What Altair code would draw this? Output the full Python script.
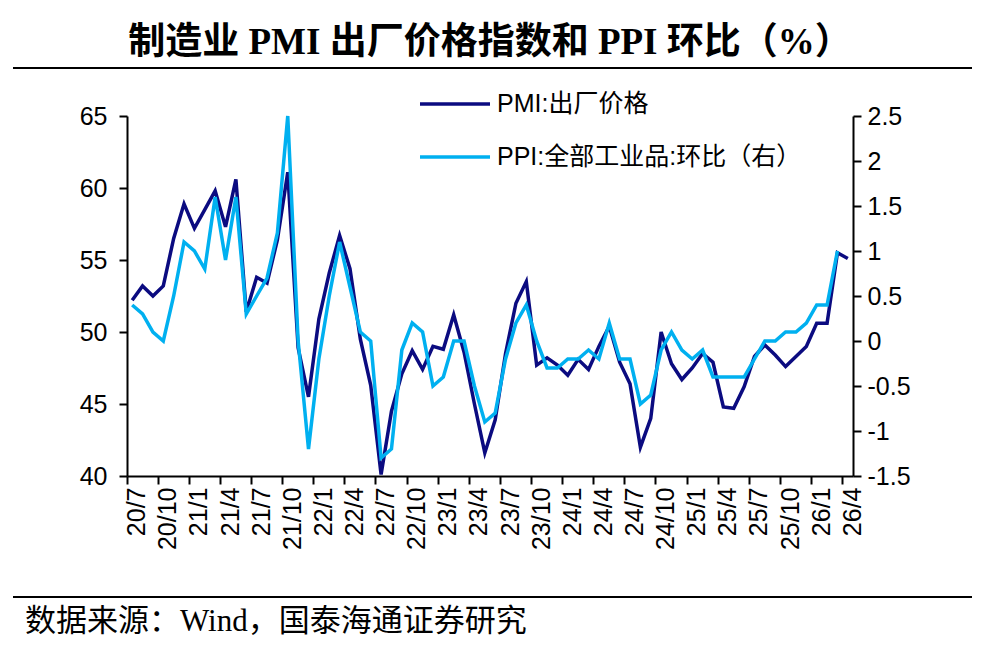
import altair as alt
import pandas as pd

months = [
    "20/7", "20/8", "20/9", "20/10", "20/11", "20/12",
    "21/1", "21/2", "21/3", "21/4", "21/5", "21/6", "21/7", "21/8", "21/9", "21/10", "21/11", "21/12",
    "22/1", "22/2", "22/3", "22/4", "22/5", "22/6", "22/7", "22/8", "22/9", "22/10", "22/11", "22/12",
    "23/1", "23/2", "23/3", "23/4", "23/5", "23/6", "23/7", "23/8", "23/9", "23/10", "23/11", "23/12",
    "24/1", "24/2", "24/3", "24/4", "24/5", "24/6", "24/7", "24/8", "24/9", "24/10", "24/11", "24/12",
    "25/1", "25/2", "25/3", "25/4", "25/5", "25/6", "25/7", "25/8", "25/9", "25/10", "25/11", "25/12",
    "26/1", "26/2", "26/3", "26/4",
]

tick_labels = [
    "20/7", "20/10", "21/1", "21/4", "21/7", "21/10", "22/1", "22/4", "22/7", "22/10",
    "23/1", "23/4", "23/7", "23/10", "24/1", "24/4", "24/7", "24/10", "25/1", "25/4",
    "25/7", "25/10", "26/1", "26/4",
]

pmi_price = [
    52.2, 53.2, 52.5, 53.2, 56.5, 58.9,
    57.2, 58.5, 59.8, 57.3, 60.6, 51.4, 53.8, 53.4, 56.4, 61.1, 48.9, 45.5,
    50.9, 54.1, 56.7, 54.4, 49.5, 46.3, 40.1, 44.5, 47.1, 48.7, 47.4, 49.0,
    48.8, 51.2, 48.6, 45.0, 41.6, 43.9, 48.5, 52.0, 53.5, 47.7, 48.2, 47.7,
    47.0, 48.1, 47.4, 49.0, 50.4, 47.9, 46.4, 42.0, 44.0, 50.0, 47.8, 46.7,
    47.5, 48.5, 47.9, 44.8, 44.7, 46.2, 48.3, 49.1, 48.4, 47.6, 48.3, 49.0,
    50.6, 50.6, 55.5, 55.1,
]

ppi_mom = [
    0.4, 0.3, 0.1, 0.0, 0.5, 1.1,
    1.0, 0.8, 1.6, 0.9, 1.6, 0.3, 0.5, 0.7, 1.2, 2.5, 0.0, -1.2,
    -0.2, 0.5, 1.1, 0.6, 0.1, 0.0, -1.3, -1.2, -0.1, 0.2, 0.1, -0.5,
    -0.4, 0.0, 0.0, -0.5, -0.9, -0.8, -0.2, 0.2, 0.4, 0.0, -0.3, -0.3,
    -0.2, -0.2, -0.1, -0.2, 0.2, -0.2, -0.2, -0.7, -0.6, -0.1, 0.1, -0.1,
    -0.2, -0.1, -0.4, -0.4, -0.4, -0.4, -0.2, 0.0, 0.0, 0.1, 0.1, 0.2,
    0.4, 0.4, 1.0,
]

left_ticks = [40, 45, 50, 55, 60, 65]
right_ticks = [-1.5, -1.0, -0.5, 0.0, 0.5, 1.0, 1.5, 2.0, 2.5]

series_names = ["PMI:出厂价格", "PPI:全部工业品:环比（右）"]
series_colors = ["#0B0B80", "#00B0F0"]

title_text = "制造业 PMI 出厂价格指数和 PPI 环比（%）"
source_text = "数据来源：Wind，国泰海通证券研究"

pmi_df = pd.DataFrame({"month": months, "value": pmi_price})
ppi_df = pd.DataFrame({"month": months[: len(ppi_mom)], "value": ppi_mom})

SANS = "Liberation Sans, Arial, Noto Sans CJK SC"
SERIF = "Liberation Serif, Times New Roman, Noto Sans CJK SC"

axis_style = dict(
    domainColor="black", domainWidth=2, tickColor="black", tickWidth=2, tickSize=8,
    labelColor="black", labelFont=SANS, labelFontSize=25, grid=False, title=None,
)

x_enc = alt.X(
    "month:O",
    sort=months,
    bandPosition=0.5,
    scale=alt.Scale(type="band", paddingInner=0, paddingOuter=0),
    axis=alt.Axis(
        values=tick_labels, labelAngle=270, bandPosition=0, labelOffset=5,
        labelPadding=3, labelOverlap=False, **axis_style
    ),
)

pmi_line = alt.Chart(pmi_df).mark_line(color=series_colors[0], strokeWidth=3.5).encode(
    x=x_enc,
    y=alt.Y(
        "value:Q",
        scale=alt.Scale(domain=[40, 65], nice=False, zero=False),
        axis=alt.Axis(orient="left", values=left_ticks, labelPadding=12, **axis_style),
    ),
)

ppi_line = alt.Chart(ppi_df).mark_line(color=series_colors[1], strokeWidth=3.5).encode(
    x=x_enc,
    y=alt.Y(
        "value:Q",
        scale=alt.Scale(domain=[-1.5, 2.5], nice=False, zero=False),
        axis=alt.Axis(orient="right", values=right_ticks, labelPadding=6,
                      labelExpr="'' + datum.value", **axis_style),
    ),
)

one = pd.DataFrame({"k": [0]})

def legend_item(name, color, y):
    line = alt.Chart(one).mark_rule(color=color, strokeWidth=3.5).encode(
        x=alt.value(293), x2=alt.value(363), y=alt.value(y)
    )
    txt = alt.Chart(pd.DataFrame({"t": [name]})).mark_text(
        align="left", baseline="middle", font=SANS, fontSize=25, color="black"
    ).encode(text="t:N", x=alt.value(370), y=alt.value(y))
    return line + txt

leg1 = legend_item(series_names[0], series_colors[0], -12)
leg2 = legend_item(series_names[1], series_colors[1], 41)

title = alt.Chart(pd.DataFrame({"t": [title_text]})).mark_text(
    align="center", baseline="middle", font=SERIF, fontSize=37, fontWeight="bold", color="black"
).encode(text="t:N", x=alt.value(363), y=alt.value(-73))

top_rule = alt.Chart(one).mark_rule(color="black", strokeWidth=2).encode(
    x=alt.value(-114), x2=alt.value(845), y=alt.value(-48)
)
bottom_rule = alt.Chart(one).mark_rule(color="black", strokeWidth=2).encode(
    x=alt.value(-114), x2=alt.value(845), y=alt.value(481)
)
source = alt.Chart(pd.DataFrame({"t": [source_text]})).mark_text(
    align="left", baseline="middle", font=SERIF, fontSize=31, color="black"
).encode(text="t:N", x=alt.value(-102), y=alt.value(506))

chart = (
    alt.layer(pmi_line, ppi_line, leg1, leg2, title, top_rule, bottom_rule, source)
    .resolve_scale(y="independent")
    .properties(
        width=726, height=360,
        autosize=alt.AutoSizeParams(type="none"),
        padding={"left": 119, "top": 108, "right": 134, "bottom": 170},
        background="white",
    )
    .configure_view(stroke=None)
)

chart.save("out.html", embed_options={"renderer": "svg", "actions": False})
